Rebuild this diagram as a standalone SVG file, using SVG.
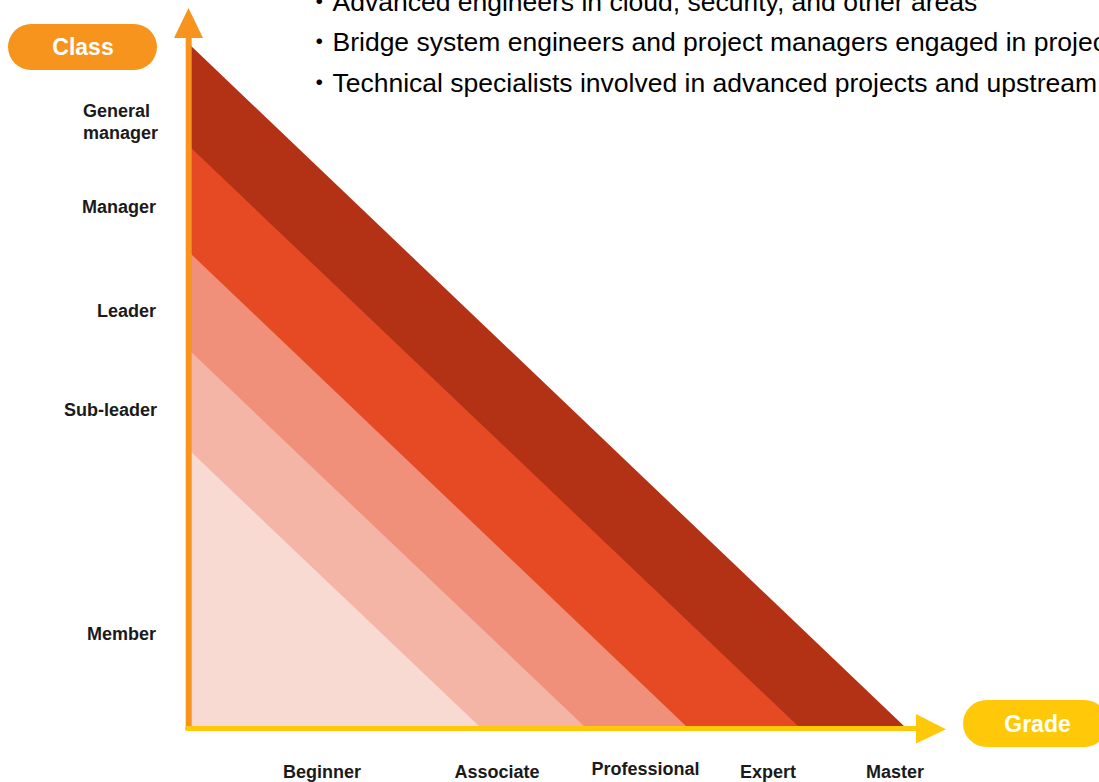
<svg xmlns="http://www.w3.org/2000/svg" width="1099" height="782" viewBox="0 0 1099 782">
  <style>
    .lbl { font-family: "Liberation Sans", Arial, sans-serif; font-weight: bold; font-size: 18px; fill: #1a1a1a; }
    .ylbl { text-anchor: end; }
    .xlbl { text-anchor: middle; }
    .pilltxt { font-family: "Liberation Sans", Arial, sans-serif; font-weight: bold; font-size: 23px; fill: #ffffff; text-anchor: middle; }
    .bullet { font-family: "Liberation Sans", Arial, "Noto Sans CJK JP", sans-serif; font-size: 26.5px; fill: #000000; }
  </style>
  <rect x="0" y="0" width="1099" height="782" fill="#ffffff"/>

  <g id="bands">
    <polygon points="188,43.1 188,729 907.1,729" fill="#B33215"/>
    <polygon points="188,145.1 188,729 801.1,729" fill="#E54A24"/>
    <polygon points="188,251.1 188,729 689.1,729" fill="#F0907A"/>
    <polygon points="188,349.1 188,729 587.1,729" fill="#F4B5A7"/>
    <polygon points="188,449.1 188,729 482.1,729" fill="#F9DAD3"/>
  </g>

  <g id="connectors">
    <line x1="188.7" y1="36" x2="188.7" y2="730" stroke="#F7941D" stroke-width="6"/>
    <polygon points="188.5,8 203,38 174,38" fill="#F7941D"/>
    <line x1="187.5" y1="728.5" x2="918" y2="728.5" stroke="#FFC90A" stroke-width="5" stroke-linecap="round"/>
    <polygon points="916,714 946,729.3 916,743.5" fill="#FFC90A"/>
  </g>

  <g id="class-pill">
    <rect x="8" y="24" width="149" height="46" rx="23" ry="23" fill="#F7941D"/>
    <text class="pilltxt" x="83" y="55">Class</text>
  </g>

  <g id="grade-pill">
    <rect x="963" y="700" width="145" height="47" rx="23.5" ry="23.5" fill="#FFC90A"/>
    <text class="pilltxt" x="1037.5" y="732">Grade</text>
  </g>

  <g id="class-labels">
    <text class="lbl" x="83" y="117">General</text>
    <text class="lbl" x="83" y="139">manager</text>
    <text class="lbl ylbl" x="156" y="213">Manager</text>
    <text class="lbl ylbl" x="156" y="317">Leader</text>
    <text class="lbl ylbl" x="157" y="415.5">Sub-leader</text>
    <text class="lbl ylbl" x="156" y="640">Member</text>
  </g>

  <g id="grade-labels">
    <text class="lbl xlbl" x="322" y="777.5">Beginner</text>
    <text class="lbl xlbl" x="497" y="777.5">Associate</text>
    <text class="lbl xlbl" x="645.5" y="775">Professional</text>
    <text class="lbl xlbl" x="768" y="777.5">Expert</text>
    <text class="lbl xlbl" x="895" y="777.5">Master</text>
  </g>

  <g id="description">
    <text class="bullet" x="306" y="11">・Advanced engineers in cloud, security, and other areas</text>
    <text class="bullet" x="306" y="51">・Bridge system engineers and project managers engaged in projec</text>
    <text class="bullet" x="306" y="92">・Technical specialists involved in advanced projects and upstream</text>
  </g>
</svg>
